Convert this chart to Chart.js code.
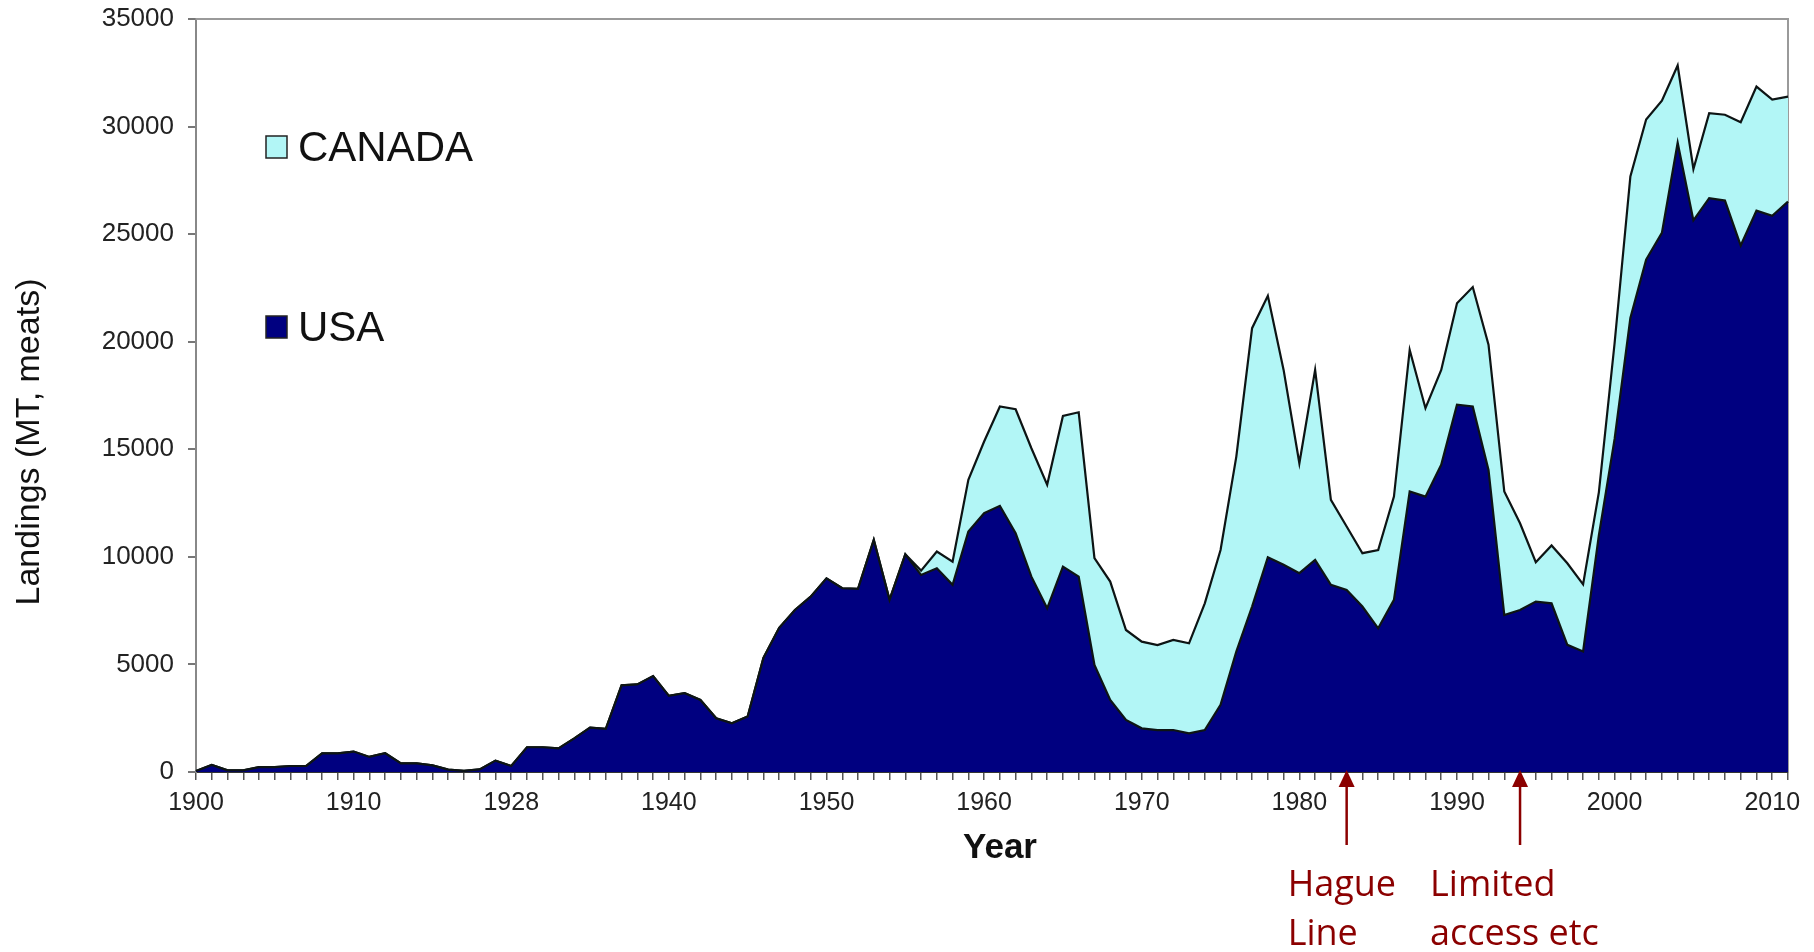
<!DOCTYPE html>
<html>
<head>
<meta charset="utf-8">
<title>Landings</title>
<script src="https://cdn.jsdelivr.net/npm/chart.js@4.4.1/dist/chart.umd.min.js"></script>
<style>
  body { margin: 0; background: #fff; }
  canvas { display: block; }
</style>
</head>
<body>
<canvas id="myChart" width="1814" height="952"></canvas>
<script>
// landings, one value per category tick (MT, meats)
const usa = [
  50, 330, 80, 80, 230, 230, 280, 280, 870, 870,
  950, 700, 870, 400, 400, 310, 110, 50, 120, 530,
  280, 1150, 1150, 1100, 1560, 2060, 2010, 4030, 4070, 4460,
  3540, 3660, 3350, 2500, 2260, 2580, 5300, 6700, 7530, 8150,
  9000, 8540, 8510, 10790, 8000, 10120, 9160, 9470, 8700, 11180,
  12030, 12370, 11100, 9080, 7610, 9550, 9080, 4980, 3350, 2420,
  2030, 1950, 1950, 1800, 1950, 3120, 5600, 7690, 9980, 9630,
  9240, 9860, 8700, 8460, 7690, 6680, 8000, 13040, 12800, 14280,
  17070, 16990, 14040, 7300, 7530, 7920, 7840, 5910, 5600, 11000,
  15480, 21100, 23810, 25060, 29250, 25640, 26670, 26560, 24470, 26090,
  25850, 26510
];

const canada = [
  0, 0, 0, 0, 0, 0, 0, 0, 0, 0,
  0, 0, 0, 0, 0, 0, 0, 0, 0, 0,
  0, 0, 0, 0, 0, 0, 0, 0, 0, 0,
  0, 0, 0, 0, 0, 0, 0, 0, 0, 0,
  0, 0, 0, 0, 0, 0, 200, 780, 1080, 2400,
  3330, 4620, 5760, 5970, 5740, 7000, 7640, 4960, 5500, 4180,
  4030, 3950, 4190, 4180, 5890, 7200, 9060, 12940, 12150, 9060,
  5110, 8830, 3950, 2950, 2480, 3640, 4800, 6580, 4110, 4410,
  4720, 5550, 5820, 5740, 4030, 1830, 2690, 3790, 3120, 2000,
  4460, 6580, 6520, 6140, 3590, 2390, 3950, 3990, 5730, 5770,
  5400, 4880
];

// one label every 10 categories, as printed on the original axis
const tickLabels = ['1900', '1910', '1928', '1940', '1950', '1960', '1970', '1980', '1990', '2000', '2010'];

const seriesNames = ['USA', 'CANADA'];

// annotation arrows sit on these categories
const notes = [
  { index: 73, lines: ['Hague', 'Line'] },
  { index: 84, lines: ['Limited', 'access etc'] }
];

const categories = usa.map((v, i) => i);

const navy = '#000080';
const aqua = '#b2f6f6';
const darkRed = '#8b0000';

// frame, titles, legend and arrows
const extras = {
  id: 'extras',
  beforeDatasetsDraw(chart) {
    const ctx = chart.ctx;
    const a = chart.chartArea;
    ctx.save();
    ctx.strokeStyle = '#9a9a9a';
    ctx.lineWidth = 2;
    ctx.beginPath();
    ctx.moveTo(a.left, a.top);
    ctx.lineTo(a.right, a.top);
    ctx.lineTo(a.right, a.bottom);
    ctx.stroke();
    ctx.restore();
  },
  afterDraw(chart) {
    const ctx = chart.ctx;
    const a = chart.chartArea;
    const xs = chart.scales.x;
    ctx.save();

    // axis titles
    ctx.fillStyle = '#111';
    ctx.textAlign = 'center';
    ctx.textBaseline = 'middle';
    ctx.font = 'bold 35px "Liberation Sans", Arial, sans-serif';
    ctx.fillText('Year', 1000, 848);

    ctx.save();
    ctx.translate(30, 442);
    ctx.rotate(-Math.PI / 2);
    ctx.font = '34px "Liberation Sans", Arial, sans-serif';
    ctx.fillText('Landings (MT, meats)', 0, 0);
    ctx.restore();

    // legend inside the plot
    const legend = [
      { name: seriesNames[1], color: aqua, y: 147 },
      { name: seriesNames[0], color: navy, y: 327 }
    ];
    ctx.textAlign = 'left';
    ctx.font = '42px "Liberation Sans", Arial, sans-serif';
    legend.forEach(item => {
      ctx.fillStyle = item.color;
      ctx.fillRect(266, item.y - 11, 21, 22);
      ctx.strokeStyle = '#222';
      ctx.lineWidth = 1.5;
      ctx.strokeRect(266, item.y - 11, 21, 22);
      ctx.fillStyle = '#111';
      ctx.fillText(item.name, 298, item.y + 2);
    });

    // arrows + notes under the axis
    notes.forEach(note => {
      const x = xs.getPixelForValue(note.index);
      ctx.strokeStyle = darkRed;
      ctx.fillStyle = darkRed;
      ctx.lineWidth = 2.5;
      ctx.beginPath();
      ctx.moveTo(x, a.bottom + 14);
      ctx.lineTo(x, 845);
      ctx.stroke();
      ctx.beginPath();
      ctx.moveTo(x, a.bottom - 2);
      ctx.lineTo(x - 8, a.bottom + 15);
      ctx.lineTo(x + 8, a.bottom + 15);
      ctx.closePath();
      ctx.fill();
    });
    ctx.font = '36px "Liberation Sans Narrow", "Open Sans", sans-serif';
    ctx.textAlign = 'left';
    ctx.fillStyle = darkRed;
    const left0 = xs.getPixelForValue(notes[0].index) - 59;
    const left1 = xs.getPixelForValue(notes[1].index) - 90;
    ctx.fillText(notes[0].lines[0], left0, 886);
    ctx.fillText(notes[0].lines[1], left0, 935);
    ctx.fillText(notes[1].lines[0], left1, 886);
    ctx.fillText(notes[1].lines[1], left1, 935);

    ctx.restore();
  }
};

const myChart = document.getElementById('myChart');

let areaChart = new Chart(myChart, {
  type: 'line',
  data: {
    labels: categories,
    datasets: [
      {
        label: seriesNames[0],
        data: usa,
        backgroundColor: navy,
        borderColor: '#0d1414',
        borderWidth: 2.2,
        fill: 'origin',
        pointRadius: 0,
        tension: 0
      },
      {
        label: seriesNames[1],
        data: canada,
        backgroundColor: aqua,
        borderColor: '#0d1414',
        borderWidth: 2.2,
        fill: '-1',
        pointRadius: 0,
        tension: 0
      }
    ]
  },
  options: {
    responsive: false,
    animation: false,
    devicePixelRatio: 1,
    layout: { padding: { top: 19, right: 26, left: 0, bottom: 0 } },
    plugins: {
      legend: { display: false },
      tooltip: { enabled: false }
    },
    scales: {
      x: {
        type: 'category',
        offset: false,
        afterFit: s => { s.height = 180; },
        grid: {
          drawOnChartArea: false,
          drawTicks: true,
          tickLength: 8,
          color: '#555',
          lineWidth: 1.5
        },
        border: { color: '#333', width: 2 },
        ticks: {
          autoSkip: false,
          maxRotation: 0,
          padding: 8,
          color: '#222',
          font: { family: '"Liberation Sans", Arial, sans-serif', size: 25 },
          callback: (v, i) => (i % 10 === 0 ? tickLabels[i / 10] : '')
        }
      },
      y: {
        stacked: true,
        min: 0,
        max: 35000,
        // fixed width, and no extra room for the top label
        afterFit: s => { s.width = 196; s.paddingTop = 0; s.paddingBottom = 0; },
        grid: {
          drawOnChartArea: false,
          drawTicks: true,
          tickLength: 8,
          color: '#777',
          lineWidth: 2
        },
        border: { color: '#888', width: 2 },
        ticks: {
          stepSize: 5000,
          padding: 14,
          color: '#222',
          font: { family: '"Liberation Sans", Arial, sans-serif', size: 26 },
          callback: v => String(v)
        }
      }
    }
  },
  plugins: [extras]
});
</script>
</body>
</html>
